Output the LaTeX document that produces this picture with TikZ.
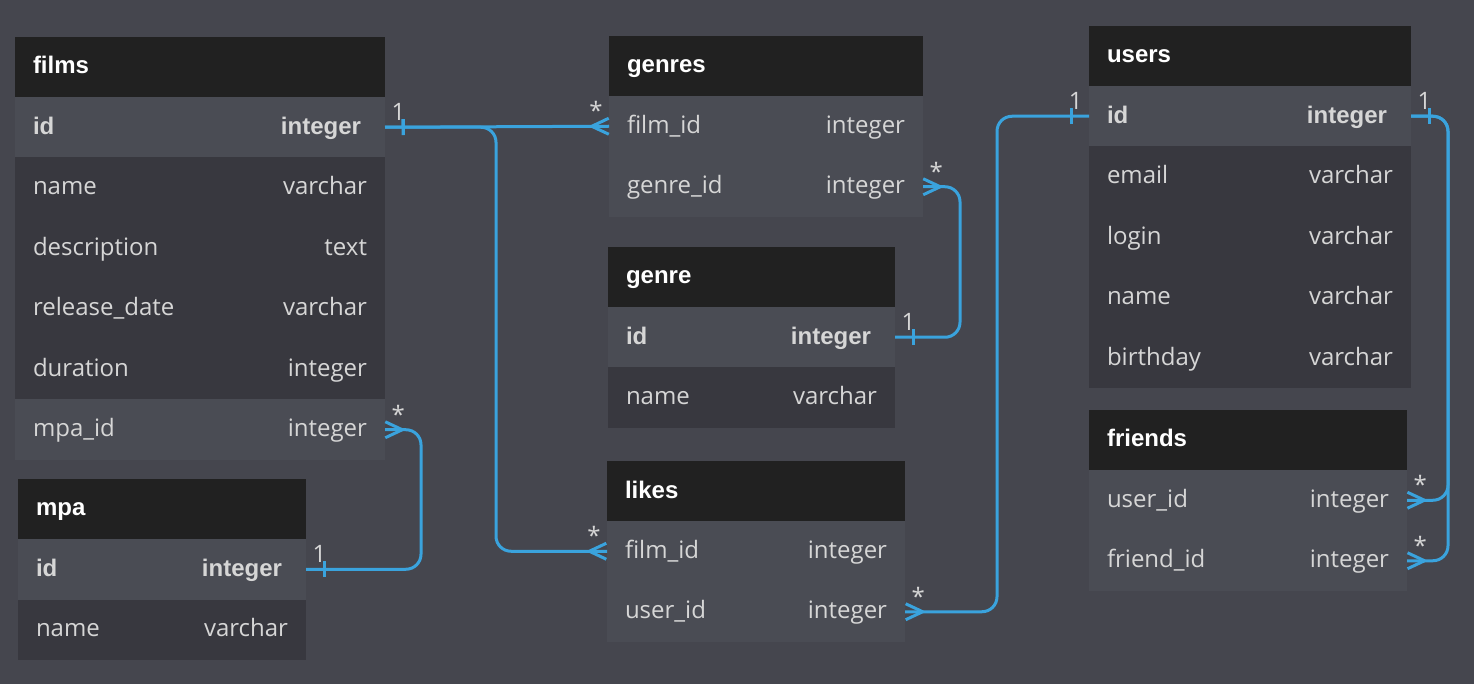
\documentclass[tikz,border=0pt]{standalone}
\usepackage{fontspec}
\setmainfont{Open Sans}
\newfontfamily\arialfont{Liberation Sans}
\usetikzlibrary{positioning,decorations.markings}
\definecolor{erBg}{HTML}{45464E}
\definecolor{erHead}{HTML}{212121}
\definecolor{erKey}{HTML}{4A4C54}
\definecolor{erRow}{HTML}{38383F}
\definecolor{erText}{HTML}{D6D6D6}
\definecolor{erBlue}{HTML}{3AA3DD}
\tikzset{
    every picture/.style={font=\fontsize{12pt}{14pt}\selectfont},
    tblhead/.style={fill=erHead, text=white, font=\arialfont\bfseries\fontsize{12pt}{14pt}\selectfont, inner xsep=9pt, inner ysep=0pt, outer sep=0pt, minimum height=30pt, text height=9pt, text depth=2pt, anchor=north west},
    colrow/.style={fill=erRow, text=erText, inner xsep=9pt, inner ysep=0pt, outer sep=0pt, minimum height=30.25pt, text height=9pt, text depth=2pt},
    fkrow/.style={colrow, fill=erKey},
    keyrow/.style={colrow, fill=erKey, font=\arialfont\bfseries\fontsize{12pt}{14pt}\selectfont},
    card/.style={text=erText, inner sep=2.5pt, font=\fontsize{12pt}{14pt}\selectfont},
    rel/.style={draw=erBlue, line width=1.5pt, rounded corners=7.5pt},
    one/.style={postaction={decorate, decoration={markings, mark=at position 9pt with {\draw[erBlue, line width=1.5pt, sharp corners] (0,-8) -- (0,8);}}}},
    many/.style={postaction={decorate, decoration={markings, mark=at position 0.999 with {\draw[erBlue, line width=1.5pt, sharp corners, line join=round] (0,-8) -- (-17,0) -- (0,8);}}}}
}
\begin{document}
\begin{tikzpicture}[x=0.5pt, y=-0.5pt]
\fill[erBg] (0,0) rectangle (1474,684);

% films
\node[tblhead, text width=167pt] (films) at (15,37) {films};
\node[keyrow, text width=167pt, below=0pt of films] (films-id) {id\hfill integer\hspace*{3pt}};
\foreach \col/\txt/\typ/\sty [remember=\col as \prev (initially id)] in {name/name/varchar/colrow, desc/description/text/colrow, release/release\_date/varchar/colrow, duration/duration/integer/colrow, mpaid/mpa\_id/integer/fkrow}
  \node[\sty, text width=167pt, below=0pt of films-\prev] (films-\col) {\txt\hfill\typ};

% mpa
\node[tblhead, text width=126pt] (mpa) at (18,479) {mpa};
\node[keyrow, text width=126pt, below=0pt of mpa] (mpa-id) {id\hfill integer\hspace*{3pt}};
\node[colrow, text width=126pt, below=0pt of mpa-id] (mpa-name) {name\hfill varchar};

% genres
\node[tblhead, text width=139pt] (genres) at (609,36) {genres};
\node[fkrow, text width=139pt, below=0pt of genres] (genres-filmid) {film\_id\hfill integer};
\node[fkrow, text width=139pt, below=0pt of genres-filmid] (genres-genreid) {genre\_id\hfill integer};

% genre
\node[tblhead, text width=125.5pt] (genre) at (608,247) {genre};
\node[keyrow, text width=125.5pt, below=0pt of genre] (genre-id) {id\hfill integer\hspace*{3pt}};
\node[colrow, text width=125.5pt, below=0pt of genre-id] (genre-name) {name\hfill varchar};

% likes
\node[tblhead, text width=131pt] (likes) at (607,461) {likes};
\node[fkrow, text width=131pt, below=0pt of likes] (likes-filmid) {film\_id\hfill integer};
\node[fkrow, text width=131pt, below=0pt of likes-filmid] (likes-userid) {user\_id\hfill integer};

% users
\node[tblhead, text width=143pt] (users) at (1089,26) {users};
\node[keyrow, text width=143pt, below=0pt of users] (users-id) {id\hfill integer\hspace*{3pt}};
\foreach \col/\typ [remember=\col as \prev (initially id)] in {email/varchar, login/varchar, name/varchar, birthday/varchar}
  \node[colrow, text width=143pt, below=0pt of users-\prev] (users-\col) {\col\hfill\typ};

% friends
\node[tblhead, text width=141pt] (friends) at (1089,410) {friends};
\node[fkrow, text width=141pt, below=0pt of friends] (friends-userid) {user\_id\hfill integer};
\node[fkrow, text width=141pt, below=0pt of friends-userid] (friends-friendid) {friend\_id\hfill integer};

% relations
\draw[rel, one, many] (films-id.east) node[card, above right] {1} -- (genres-filmid.west) node[card, above left] {*};
\draw[rel, one, many] (films-id.east) -| ([xshift=-55.5pt]likes-filmid.west) -- (likes-filmid.west) node[card, above left] {*};
\draw[rel, one, many] (genre-id.east) node[card, above right] {1} -| ([xshift=18.5pt]genres-genreid.east) -- (genres-genreid.east) node[card, above right] {*};
\draw[rel, one, many] (mpa-id.east) node[card, above right] {1} -| ([xshift=18pt]films-mpaid.east) -- (films-mpaid.east) node[card, above right] {*};
\draw[rel, one, many] (users-id.west) node[card, above left] {1} -| ([xshift=46pt]likes-userid.east) -- (likes-userid.east) node[card, above right] {*};
\draw[rel, one, many] (users-id.east) node[card, above right] {1} -| ([xshift=20.5pt]friends-userid.east) -- (friends-userid.east) node[card, above right] {*};
\draw[rel, one, many] (users-id.east) -| ([xshift=20.5pt]friends-friendid.east) -- (friends-friendid.east) node[card, above right] {*};
\end{tikzpicture}
\end{document}
